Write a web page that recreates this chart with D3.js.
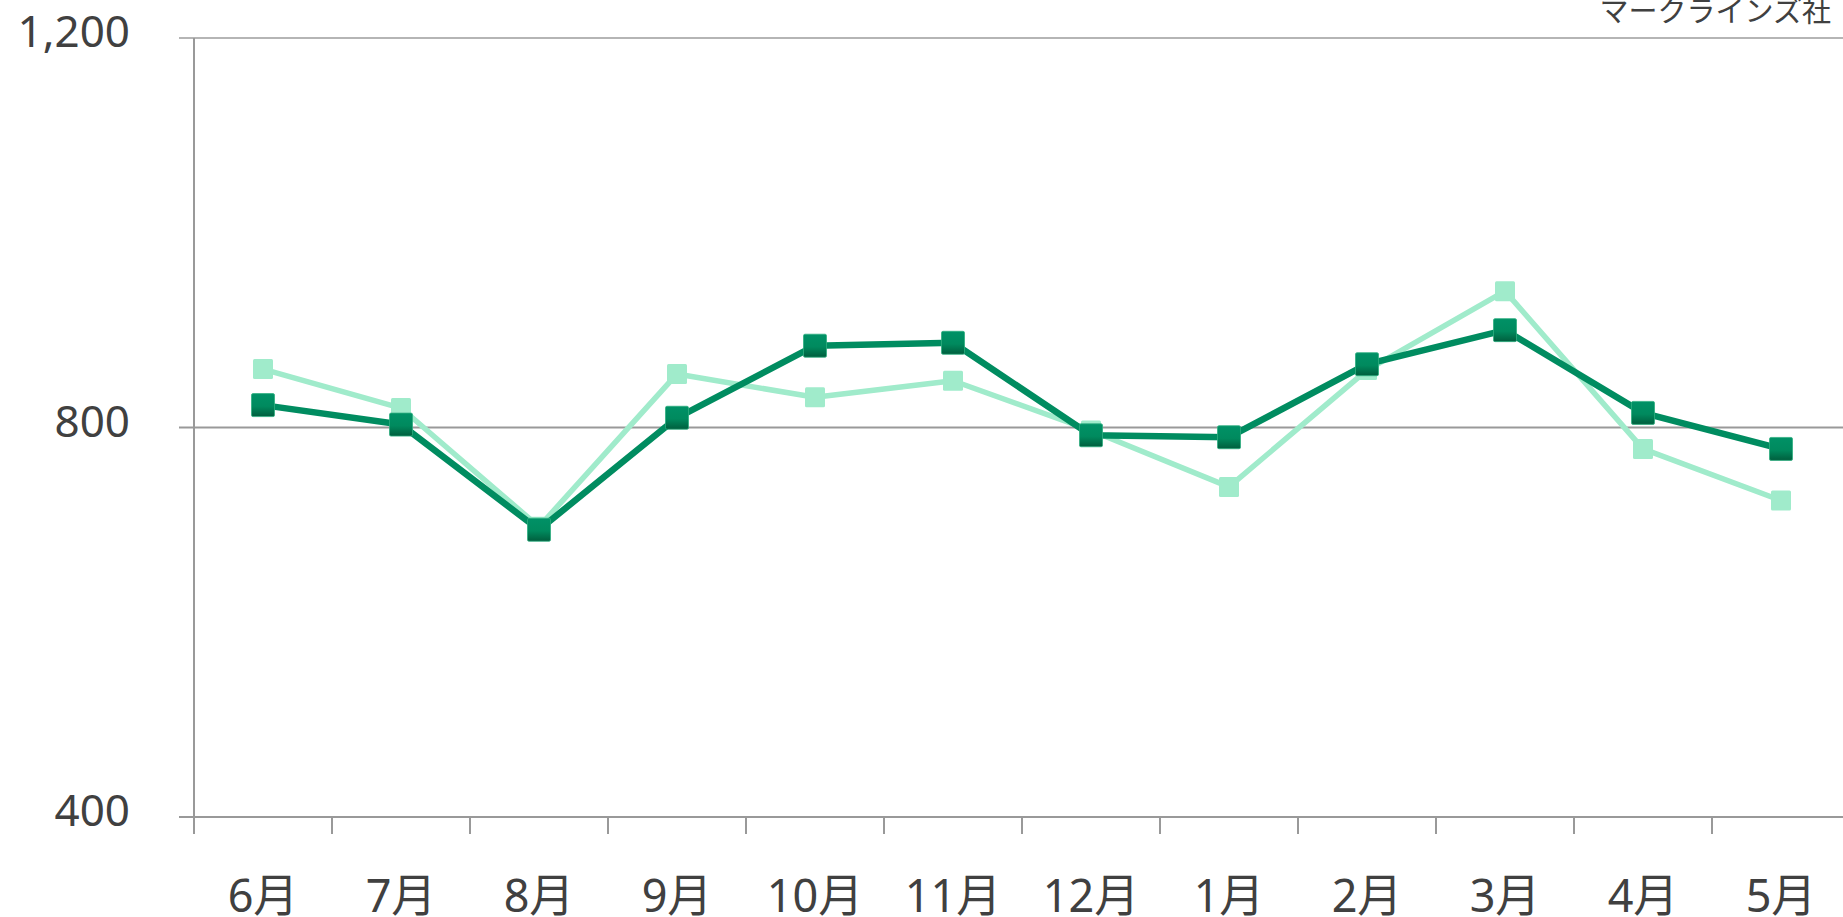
<!DOCTYPE html>
<html><head><meta charset="utf-8">
<script src="https://cdn.jsdelivr.net/npm/d3@7"></script>
<style>
html,body{margin:0;padding:0;background:#fff;overflow:hidden;}
svg{display:block;}
</style></head>
<body>
<svg id="chart" width="1843" height="917"></svg>
<script>
const categories = ["6月","7月","8月","9月","10月","11月","12月","1月","2月","3月","4月","5月"];
const seriesLight = [860, 820, 698, 855, 831, 848, 797, 739, 859, 940, 778, 725];
const seriesDark  = [823, 803, 695, 810, 884, 887, 792, 790, 865, 900, 815, 778];
const yTicks = [400, 800, 1200];
const sourceLabel = "マークラインズ社";

(function(){
const svg = d3.select("#chart");
const plotLeft = 194, plotRight = 1850, plotTop = 38, plotBottom = 817;
const x = d3.scaleBand().domain(categories).range([plotLeft, plotRight]);
const y = d3.scaleLinear().domain([400, 1200]).range([plotBottom, plotTop]);
const fontNum = "'Noto Sans','Noto Sans CJK JP',sans-serif";
const fontJP = "'Noto Sans CJK JP','Noto Sans',sans-serif";
const textCol = "#404040";
const axisCol = "#999999";

const defs = svg.append("defs");
const g1 = defs.append("linearGradient").attr("id","darkGrad").attr("x1",0).attr("y1",0).attr("x2",0).attr("y2",1);
g1.append("stop").attr("offset","0%").attr("stop-color","#009166");
g1.append("stop").attr("offset","55%").attr("stop-color","#008a5e");
g1.append("stop").attr("offset","100%").attr("stop-color","#005e3d");

// gridlines
svg.append("g").selectAll("line").data(yTicks).join("line")
  .attr("x1", plotLeft - 15).attr("x2", 1843)
  .attr("y1", d => y(d)).attr("y2", d => y(d))
  .attr("stroke", d => d === 1200 ? "#b5b5b5" : axisCol).attr("stroke-width", 2);

// y axis line
svg.append("line").attr("x1", plotLeft).attr("x2", plotLeft).attr("y1", plotTop).attr("y2", plotBottom + 17)
  .attr("stroke", axisCol).attr("stroke-width", 2);

// x ticks at band boundaries
const bounds = categories.map(c => x(c)).concat([x(categories[categories.length-1]) + x.bandwidth()]);
svg.append("g").selectAll("line").data(bounds.slice(1)).join("line")
  .attr("x1", d => d).attr("x2", d => d).attr("y1", plotBottom).attr("y2", plotBottom + 17)
  .attr("stroke", axisCol).attr("stroke-width", 2);

// y labels
svg.append("g").selectAll("text").data(yTicks).join("text")
  .attr("x", 130).attr("y", d => y(d) - 8)
  .attr("text-anchor", "end").attr("dominant-baseline", "central")
  .attr("font-family", fontNum).attr("font-size", 44).attr("fill", textCol)
  .text(d => d3.format(",")(d));

// x labels
svg.append("g").selectAll("text").data(categories).join("text")
  .attr("x", d => x(d) + x.bandwidth()/2).attr("y", 894)
  .attr("text-anchor", "middle").attr("dominant-baseline", "central")
  .attr("font-family", fontNum).attr("font-size", 45).attr("fill", textCol)
  .text(d => d);

// source label
svg.append("text").attr("x", 1831).attr("y", 9)
  .attr("text-anchor", "end").attr("dominant-baseline", "central")
  .attr("font-family", fontJP).attr("font-size", 29).attr("fill", textCol)
  .text(sourceLabel);

const cx = (d,i) => x(categories[i]) + x.bandwidth()/2;
const line = d3.line().x((d,i) => cx(d,i)).y(d => y(d));

// light series
svg.append("path").datum(seriesLight).attr("d", line)
  .attr("fill","none").attr("stroke","#a0ebcb").attr("stroke-width",5.5).attr("stroke-linejoin","round");
svg.append("g").selectAll("rect").data(seriesLight).join("rect")
  .attr("x", (d,i) => cx(d,i) - 10).attr("y", d => y(d) - 10)
  .attr("width", 20).attr("height", 20).attr("rx", 1.5)
  .attr("fill", "#a0ebcb");

// dark series
svg.append("path").datum(seriesDark).attr("d", line)
  .attr("fill","none").attr("stroke","#008c60").attr("stroke-width",6.5).attr("stroke-linejoin","round");
svg.append("g").selectAll("rect").data(seriesDark).join("rect")
  .attr("x", (d,i) => cx(d,i) - 11.5).attr("y", d => y(d) - 11.5)
  .attr("width", 23).attr("height", 23).attr("rx", 1.5)
  .attr("fill", "url(#darkGrad)").attr("stroke","#2fae80").attr("stroke-width",0.8);
})();
</script>
</body></html>
